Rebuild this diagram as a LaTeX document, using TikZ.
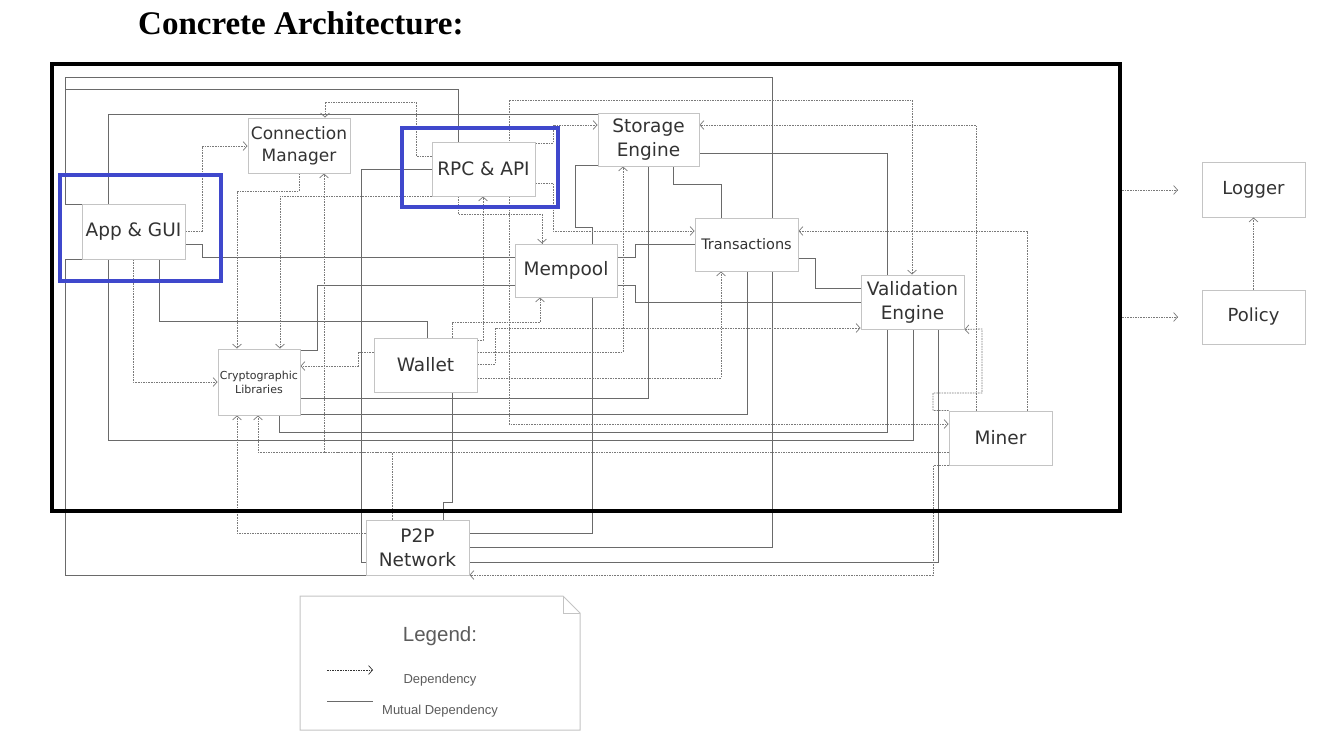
\documentclass[tikz,border=0pt]{standalone}
\usepackage{fontspec}
\usetikzlibrary{arrows.meta,backgrounds}
\newfontfamily\boxfont{DejaVu Sans}
\newfontfamily\legfont{Liberation Sans}
\newfontfamily\ttlfont{Liberation Serif}
\definecolor{boxgray}{HTML}{C4C4C4}
\definecolor{txt}{HTML}{333333}
\definecolor{solidln}{HTML}{6A6A6A}
\definecolor{dashln}{HTML}{7A7A7A}
\definecolor{hiblue}{HTML}{3F48CC}
\begin{document}
\begin{tikzpicture}[x=1pt,y=-1pt,
  comp/.style={draw=boxgray, line width=1pt, fill=white, text=txt, align=center,
    inner sep=0pt, minimum width=103pt, minimum height=54pt,
    font=\boxfont\fontsize{18.5}{24}\selectfont},
  mut/.style={draw=solidln, line width=0.9pt},
  dep/.style={draw=dashln, line width=0.8pt, dash pattern=on 1.6pt off 1pt,
    -{Straight Barb[length=4pt,width=9pt,line width=0.7pt]}},
  bidep/.style={draw=dashln, line width=0.8pt, dash pattern=on 1.6pt off 1pt,
    {Straight Barb[length=4pt,width=9pt,line width=0.7pt]}-{Straight Barb[length=4pt,width=9pt,line width=0.7pt]}},
  legtxt/.style={text=txt!80, inner sep=0pt, font=\legfont\fontsize{13}{15}\selectfont},
  hibox/.style={draw=hiblue, line width=4pt}
]
\useasboundingbox (0,0) rectangle (1334,742);

% title
\node[anchor=west, inner sep=0pt, font=\ttlfont\bfseries\fontsize{33}{38}\selectfont] (title) at (138,23) {Concrete Architecture:};

% frame
\node[draw=black, line width=4.5pt, inner sep=0pt, minimum width=1068pt, minimum height=447pt] (frame) at (586,287.5) {};

% components
\node[comp, minimum width=102pt, minimum height=55pt, font=\boxfont\fontsize{17}{22}\selectfont] (cm) at (299,145.5) {Connection\\Manager};
\node[comp] (rpc) at (483.5,169) {RPC \& API};
\node[comp, minimum width=101pt, minimum height=53pt] (stor) at (648.5,139.5) {Storage\\Engine};
\node[comp, minimum height=55pt] (app) at (133.5,231.5) {App \& GUI};
\node[comp, minimum height=53pt, font=\boxfont\fontsize{14.5}{17}\selectfont] (trans) at (746.5,244.5) {Transactions};
\node[comp, minimum width=102pt, minimum height=53pt] (mem) at (566,270.5) {Mempool};
\node[comp] (val) at (912.5,302) {Validation\\Engine};
\node[comp, minimum width=82pt, minimum height=66pt, font=\boxfont\fontsize{11}{14}\selectfont] (crypto) at (259,382) {Cryptographic\\Libraries};
\node[comp] (wallet) at (425.5,365) {Wallet};
\node[comp] (miner) at (1000.5,438) {Miner};
\node[comp, minimum height=55pt] (p2p) at (417.5,547.5) {P2P\\Network};
\node[comp, minimum height=55pt, font=\boxfont\fontsize{18}{22}\selectfont] (logger) at (1253.5,189.5) {Logger};
\node[comp, font=\boxfont\fontsize{18}{22}\selectfont] (policy) at (1253.5,317) {Policy};

\begin{scope}[on background layer]
% mutual dependencies
\draw[mut] (app.west|-0,204) -| (65,77) -| (772,547) -- (p2p.east|-0,547);
\draw[mut] (65,204) |- (458,89) -- (rpc.north-|458,0);
\draw[mut] (app.west|-0,259) -| (65,575) -- (p2p.west|-0,575);
\draw[mut] (app.north-|108,0) |- (stor.west|-0,114);
\draw[mut] (app.south-|108,0) |- (913,440) -- (val.south-|913,0);
\draw[mut] (app.east|-0,244) -| (202,257) -- (mem.west|-0,257);
\draw[mut] (app.south-|159,0) |- (427,321) -- (wallet.north-|427,0);
\draw[mut] (rpc.west) -| (361,562) -- (p2p.west|-0,562);
\draw[mut] (crypto.east|-0,350) -| (317,285) -- (mem.west|-0,285);
\draw[mut] (crypto.east|-0,398) -| (stor.south-|648,0);
\draw[mut] (crypto.east|-0,414) -| (trans.south-|747,0);
\draw[mut] (crypto.south-|279,0) |- (887,432) -- (val.south-|887,0);
\draw[mut] (wallet.south-|452,0) |- (443,502) -- (p2p.north-|443,0);
\draw[mut] (mem.south-|592,0) |- (p2p.east|-0,533);
\draw[mut] (stor.west|-0,165) -| (575,227) -| (mem.north-|592,0);
\draw[mut] (stor.south-|673,0) |- (721,184) -- (trans.north-|721,0);
\draw[mut] (stor.east|-0,153) -| (val.north-|887,0);
\draw[mut] (mem.east|-0,257) -| (635,244) -- (trans.west|-0,244);
\draw[mut] (mem.east|-0,285) -| (635,302) -- (val.west|-0,302);
\draw[mut] (trans.east|-0,258) -| (815,288) -- (val.west|-0,288);
\draw[mut] (val.south-|938,0) |- (p2p.east|-0,562);

% dependencies
\draw[dep] (rpc.west|-0,156) -| (416,102) -| (cm.north-|325,0);
\draw[dep] (app.east|-0,231) -| (202,146) -- (cm.west|-0,146);
\draw[dep] (app.south-|133,0) |- (crypto.west|-0,382);
\draw[dep] (cm.south-|299,0) |- (237,191) -- (crypto.north-|237,0);
\draw[dep] (rpc.west|-0,196) -| (crypto.north-|280,0);
\draw[dep] (miner.west|-0,452) -| (cm.south-|324,0);
\draw[dep] (p2p.north-|392,0) |- (258,452) -- (crypto.south-|258,0);
\draw[dep] (p2p.west|-0,533) -| (crypto.south-|237,0);
\draw[dep] (wallet.west|-0,352) -| (358,366) -- (crypto.east|-0,366);
\draw[dep] (wallet.east|-0,340) -| (rpc.south-|483,0);
\draw[dep] (wallet.north-|452,0) |- (540,322) -- (mem.south-|540,0);
\draw[dep] (wallet.east|-0,352) -| (stor.south-|623,0);
\draw[dep] (wallet.east|-0,364) -| (495,328) -- (val.west|-0,328);
\draw[dep] (wallet.east|-0,378) -| (trans.south-|721,0);
\draw[dep] (rpc.east|-0,143) -| (553,125) -- (stor.west|-0,125);
\draw[dep] (rpc.east|-0,183) -| (553,231) -- (trans.west|-0,231);
\draw[dep] (rpc.south-|458,0) |- (542,214) -- (mem.north-|542,0);
\draw[dep] (miner.north-|976,0) |- (stor.east|-0,125);
\draw[dep] (miner.north-|1027,0) |- (trans.east|-0,231);
\draw[dep] (miner.north west) -| (933,393) -| (982,329) -- (val.south east);
\draw[bidep] (val.north-|912,0) |- (509,100) |- (miner.west|-0,424);
\draw[dep] (miner.south west) -| (933,575) -- (p2p.east|-0,575);
\end{scope}

% external dependencies
\coordinate (lgin) at (1178,190);
\coordinate (poin) at (1178,317);
\draw[dep] (frame.east|-0,190) -- (lgin);
\draw[dep] (frame.east|-0,317) -- (poin);
\draw[dep] (policy.north) -- (logger.south);

% highlight boxes
\draw[hibox] (60,175) rectangle (221,281);
\draw[hibox] (402,128) rectangle (558,207);

% legend
\draw[draw=boxgray, line width=1pt, fill=white] (300,596) -- (563,596) -- (580,613) -- (580,730) -- (300,730) -- cycle;
\draw[draw=boxgray, line width=1pt] (563,596) -- (563,613) -- (580,613);
\node[legtxt, font=\legfont\fontsize{20.5}{24}\selectfont] (legtitle) at (440,636) {Legend:};
\coordinate (lda) at (327,670);
\coordinate (ldb) at (373,670);
\draw[dep, draw=txt] (lda) -- (ldb);
\node[legtxt] (legdep) at (440,680) {Dependency};
\coordinate (lma) at (327,701);
\coordinate (lmb) at (373,701);
\draw[mut] (lma) -- (lmb);
\node[legtxt] (legmut) at (440,711) {Mutual Dependency};
\end{tikzpicture}
\end{document}
